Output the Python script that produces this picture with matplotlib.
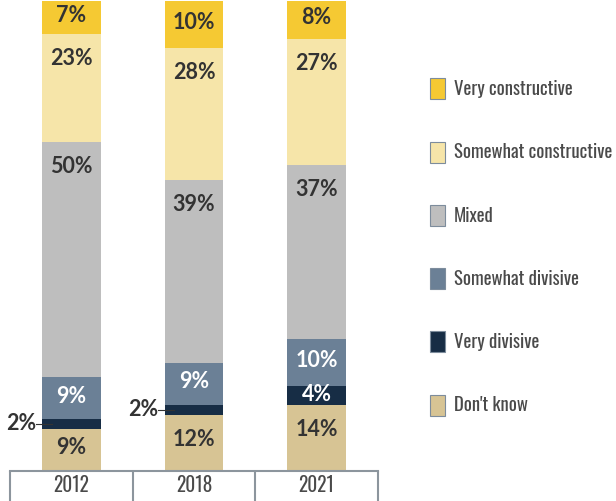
import matplotlib
matplotlib.use("Agg")
import matplotlib.pyplot as plt
from matplotlib import font_manager as fm
from matplotlib.patches import Patch


# =====================================================
# DATA
# =====================================================

years = ["2012", "2018", "2021"]

series_names = [
    "Don't know",
    "Very divisive",
    "Somewhat divisive",
    "Mixed",
    "Somewhat constructive",
    "Very constructive",
]

dont_know = [9, 12, 14]
very_divisive = [2, 2, 4]
somewhat_divisive = [9, 9, 10]
mixed = [50, 39, 37]
somewhat_constructive = [23, 28, 27]
very_constructive = [7, 10, 8]

series_values = [
    dont_know,
    very_divisive,
    somewhat_divisive,
    mixed,
    somewhat_constructive,
    very_constructive,
]

colors = ["#D7C494", "#172D45", "#6B8096", "#BEBEBE", "#F6E5A9", "#F5C933"]
label_colors = ["#333333", "#FFFFFF", "#FFFFFF", "#333333", "#333333", "#333333"]


# =====================================================
# FONTS
# =====================================================

def pick(candidates, min_weight=0, max_weight=1000, static_only=False):
    for c in candidates:
        ents = [
            f for f in fm.fontManager.ttflist
            if f.name == c and min_weight <= f.weight <= max_weight
            and not (static_only and "[" in f.fname)
        ]
        if ents:
            return [c, "DejaVu Sans"]
    return None


NARROW = (
    pick(["Oswald", "Oswald Light"], max_weight=300, static_only=True)
    or pick(["Oswald Light", "Oswald ExtraLight"])
    or pick(["Oswald", "Roboto Condensed"])
    or ["DejaVu Sans"]
)
VALUE_FONT = (
    pick(["Mulish", "Nunito Sans", "Nunito", "Lato"],
         min_weight=600, static_only=True)
    or ["DejaVu Sans"]
)
TEXT_COLOR = "#4a4a4a"


# =====================================================
# PLOT
# =====================================================

fig = plt.figure(figsize=(6.16, 5.01), dpi=100)
ax = fig.add_axes([10 / 616, 30 / 501, 368 / 616, 470 / 501])

x = list(range(len(years)))
bar_width = 0.48
bottoms = [0, 0, 0]

for name, vals, col, lcol in zip(series_names, series_values, colors, label_colors):
    ax.bar(x, vals, bottom=bottoms, width=bar_width, color=col, label=name)

    for i, v in enumerate(vals):
        top = bottoms[i] + v
        if v <= 2:
            # small slice: label to the left with a leader line
            yc = bottoms[i] + v / 2
            ax.plot(
                [i - bar_width / 2 - 0.05, i - bar_width / 2 + 0.08],
                [yc, yc],
                color="#333333",
                linewidth=0.8,
                clip_on=False,
            )
            ax.text(
                i - bar_width / 2 - 0.05, yc, f"{v}%",
                ha="right", va="center",
                fontsize=15.5, fontweight="bold",
                family=VALUE_FONT, color="#333333",
            )
        else:
            yl = top - min(v * 0.45, 5.2)
            ax.text(
                i, yl, f"{v}%",
                ha="center", va="center",
                fontsize=15.5, fontweight="bold",
                family=VALUE_FONT, color=lcol,
            )

    bottoms = [b + v for b, v in zip(bottoms, vals)]

ax.set_xlim(-0.5, len(years) - 0.5)
ax.set_ylim(0, 100)

for side in ["top", "left", "right"]:
    ax.spines[side].set_visible(False)
ax.spines["bottom"].set_color("#8C959D")
ax.spines["bottom"].set_linewidth(1.5)

ax.set_yticks([])
ax.set_xticks(x)
ax.set_xticklabels(years, family=NARROW, fontsize=14, fontweight="light",
                   color=TEXT_COLOR)
ax.tick_params(axis="x", which="major", length=0, pad=3)

# category separators below the axis
ax.set_xticks([i - 0.5 for i in range(len(years) + 1)], minor=True)
ax.tick_params(
    axis="x", which="minor",
    length=22, width=1.5, color="#8C959D", direction="out",
)


# =====================================================
# LEGEND
# =====================================================

handles = [
    Patch(facecolor=c, edgecolor="#7D8C9C", linewidth=0.8, label=n)
    for n, c in zip(series_names, colors)
][::-1]

fig.legend(
    handles=handles,
    loc="center left",
    bbox_to_anchor=(430 / 616, 1 - 247 / 501),
    bbox_transform=fig.transFigure,
    frameon=False,
    prop={"family": NARROW, "size": 13.5, "weight": "light"},
    labelcolor=TEXT_COLOR,
    handlelength=0.78,
    handleheight=1.35,
    handletextpad=0.48,
    labelspacing=2.25,
    borderpad=0,
    borderaxespad=0,
)

plt.savefig("out.png", dpi=100)
